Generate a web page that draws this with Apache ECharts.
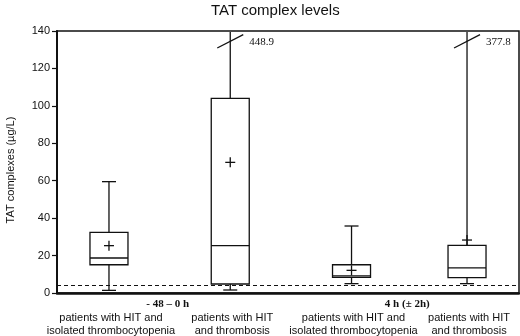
<!DOCTYPE html>
<html>
<head>
<meta charset="utf-8">
<title>TAT complex levels</title>
<script src="https://cdn.jsdelivr.net/npm/echarts@6/dist/echarts.min.js"></script>
<style>
  html, body { margin: 0; padding: 0; background: #fff; }
  #chart { width: 520px; height: 336px; }
</style>
</head>
<body>
<div id="chart"></div>
<script>
// values (µg/L)
var groups = ['- 48 – 0 h', '4 h (± 2h)'];
var categories = [
    'patients with HIT and\nisolated thrombocytopenia',
    'patients with HIT\nand thrombosis',
    'patients with HIT and\nisolated thrombocytopenia',
    'patients with HIT\nand thrombosis'
];
var lowWhisker = [1.4, 1.6, 5.0, 5.0];
var q1 = [15.1, 4.8, 8.4, 8.2];
var median = [18.7, 25.3, 9.2, 13.4];
var q3 = [32.4, 104.0, 15.1, 25.5];
var highWhisker = [59.5, 448.9, 35.8, 377.8];
var mean = [25.3, 69.8, 12.1, 28.3];
var refLine = 4.3;

var yMin = 0, yMax = 140, yStep = 20;

// where each box sits on a 0..4 horizontal scale
var slots = [0.45, 1.5, 2.55, 3.55];

var ink = '#111';
var chart = echarts.init(document.getElementById('chart'));

var boxData = [];
for (var i = 0; i < slots.length; i++) {
    boxData.push([slots[i], lowWhisker[i], q1[i], median[i], q3[i], highWhisker[i], mean[i]]);
}
var groupData = [];
for (var g = 0; g < groups.length; g++) {
    groupData.push([(slots[2 * g] + slots[2 * g + 1]) / 2, 0]);
}

function renderBox(params, api) {
    var i = params.dataIndex;
    var x = api.value(0);
    var cx = api.coord([x, 0])[0];
    var y = function (v) { return api.coord([x, v])[1]; };
    var half = 19, cap = 7, cross = 5;
    var hi = api.value(5);
    var broken = hi > yMax;
    var st = { stroke: ink, lineWidth: 1.3, fill: null };
    var yq1 = y(api.value(2)), yq3 = y(api.value(4)), ymed = y(api.value(3));
    var ylo = y(api.value(1)), ymean = y(api.value(6));
    var yhi = broken ? y(yMax) + 1 : y(hi);

    var kids = [
        { type: 'line', shape: { x1: cx, y1: ylo, x2: cx, y2: yq1 }, style: st },
        { type: 'line', shape: { x1: cx, y1: yq3, x2: cx, y2: yhi }, style: st },
        { type: 'rect', shape: { x: cx - half, y: yq3, width: 2 * half, height: yq1 - yq3 }, style: st },
        { type: 'line', shape: { x1: cx - half, y1: ymed, x2: cx + half, y2: ymed }, style: st },
        { type: 'line', shape: { x1: cx - cap, y1: ylo, x2: cx + cap, y2: ylo }, style: st },
        { type: 'line', shape: { x1: cx - cross, y1: ymean, x2: cx + cross, y2: ymean }, style: st },
        { type: 'line', shape: { x1: cx, y1: ymean - cross, x2: cx, y2: ymean + cross }, style: st },
        {
            type: 'text', x: cx + 2, y: 311.5,
            style: {
                text: categories[i], align: 'center', verticalAlign: 'top',
                fontFamily: 'Liberation Sans', fontSize: 11, lineHeight: 13.3, fill: ink
            }
        }
    ];
    if (!broken) {
        kids.push({ type: 'line', shape: { x1: cx - cap, y1: yhi, x2: cx + cap, y2: yhi }, style: st });
    } else {
        // axis break mark with the real maximum
        var yb = y(134.5);
        kids.push({ type: 'line', shape: { x1: cx - 13, y1: yb + 6.7, x2: cx + 13, y2: yb - 6.7 }, style: st });
        kids.push({
            type: 'text', x: cx + 19, y: yb + 1,
            style: {
                text: String(hi), align: 'left', verticalAlign: 'middle',
                fontFamily: 'Liberation Serif', fontSize: 11, fill: ink
            }
        });
    }
    return { type: 'group', children: kids };
}

function renderGroup(params, api) {
    var p = api.coord([api.value(0), 0]);
    return {
        type: 'text', x: p[0] - 2, y: 304.5,
        style: {
            text: groups[params.dataIndex], align: 'center', verticalAlign: 'middle',
            fontFamily: 'Liberation Serif', fontSize: 11, fontWeight: 'bold', fill: ink
        }
    };
}

var option = {
    animation: false,
    title: {
        text: 'TAT complex levels',
        left: 206,
        top: -2,
        textStyle: { fontFamily: 'Liberation Sans', fontSize: 15, fontWeight: 'normal', color: ink }
    },
    grid: {
        show: true, borderColor: ink, borderWidth: 1.5,
        left: 57, right: 1, top: 31, bottom: 43
    },
    xAxis: {
        type: 'value', min: 0, max: 4,
        axisLine: { show: true, lineStyle: { color: ink, width: 2.5 } },
        axisTick: { show: false },
        axisLabel: { show: false },
        splitLine: { show: false }
    },
    yAxis: {
        type: 'value', min: yMin, max: yMax, interval: yStep,
        axisLine: { show: true, lineStyle: { color: ink, width: 2 } },
        axisTick: { show: true, length: 5, lineStyle: { color: ink, width: 1.2 } },
        axisLabel: { fontFamily: 'Liberation Sans', fontSize: 11, color: ink, margin: 7 },
        splitLine: { show: false }
    },
    graphic: [{
        type: 'text', x: 11, y: 170, rotation: Math.PI / 2,
        style: {
            text: 'TAT complexes (µg/L)', align: 'center', verticalAlign: 'middle',
            fontFamily: 'Liberation Sans', fontSize: 11, fill: ink
        }
    }],
    series: [{
        type: 'custom',
        renderItem: renderBox,
        data: boxData,
        clip: false,
        markLine: {
            silent: true, symbol: 'none', label: { show: false },
            lineStyle: { color: ink, type: [4, 3], width: 1 },
            data: [{ yAxis: refLine }]
        }
    }, {
        type: 'custom',
        renderItem: renderGroup,
        data: groupData,
        clip: false
    }]
};

chart.setOption(option);
</script>
</body>
</html>
